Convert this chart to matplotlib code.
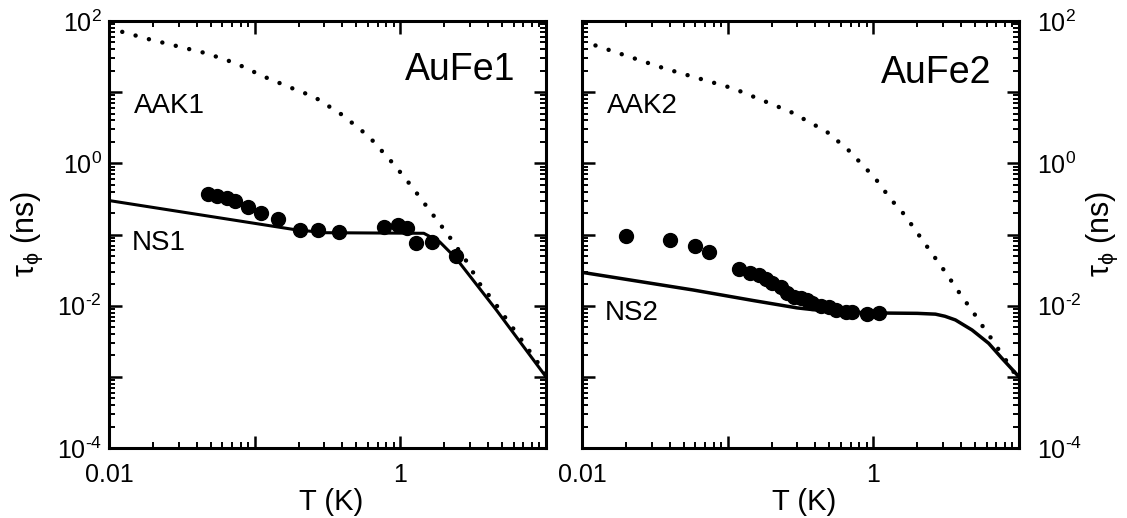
import numpy as np
import matplotlib.pyplot as plt
from matplotlib.ticker import LogLocator, NullFormatter

plt.rcParams['font.family'] = ['Liberation Sans', 'DejaVu Sans']
plt.rcParams['mathtext.fontset'] = 'custom'
plt.rcParams['mathtext.rm'] = 'Liberation Sans'
plt.rcParams['mathtext.it'] = 'Liberation Sans:italic'
plt.rcParams['mathtext.default'] = 'regular'

# ---- AuFe1 (left panel) ----
T_dat1 = [0.048, 0.0553, 0.0641, 0.0731, 0.0901, 0.111, 0.145, 0.204, 0.273,
          0.380, 0.769, 0.964, 1.11, 1.29, 1.66, 2.40]
tau_dat1 = [0.367, 0.348, 0.329, 0.298, 0.241, 0.199, 0.165, 0.116, 0.116,
            0.109, 0.129, 0.136, 0.122, 0.0752, 0.0793, 0.0499]

T_ns1 = [0.01, 0.184, 0.3, 1.45, 1.86, 2.41, 4.56, 10]
tau_ns1 = [0.30, 0.118, 0.106, 0.104, 0.079, 0.0465, 0.0087, 1.0e-3]

T_aak1 = [0.01, 0.0122, 0.0189, 0.047, 0.074, 0.116, 0.182, 0.256, 0.40, 0.61,
          0.91, 1.21, 1.60, 2.12, 2.81, 3.61, 4.22, 10]
tau_aak1 = [80, 70.8, 55.3, 35, 25.5, 16.5, 11.3, 8.6, 4.78, 2.37,
            0.95, 0.46, 0.214, 0.100, 0.0438, 0.0185, 0.0127, 1.1e-3]

# ---- AuFe2 (right panel) ----
T_dat2 = [0.0201, 0.0403, 0.060, 0.0748, 0.120, 0.142, 0.163, 0.183, 0.203,
          0.232, 0.257, 0.286, 0.318, 0.352, 0.382, 0.436, 0.497, 0.552,
          0.645, 0.716, 0.908, 1.10]
tau_dat2 = [0.0962, 0.0837, 0.0697, 0.0562, 0.0328, 0.0290, 0.0270, 0.0237,
            0.0210, 0.0181, 0.0152, 0.0134, 0.0127, 0.0120, 0.0108, 0.00989,
            0.00948, 0.00869, 0.00822, 0.00822, 0.00764, 0.00782]

T_ns2 = [0.01, 0.058, 0.15, 0.3, 0.5, 1.0, 2.0, 2.67, 3.1, 3.66, 4.76, 6.19,
         7.64, 10]
tau_ns2 = [0.0294, 0.0166, 0.0118, 0.0093, 0.0083, 0.0079, 0.0078, 0.0076,
           0.0071, 0.0063, 0.00455, 0.00296, 0.00182, 1.0e-3]

T_aak2 = [0.01, 0.0121, 0.0367, 0.109, 0.27, 0.478, 0.673, 1.03, 1.33, 1.56,
          1.77, 2.37, 3.13, 4.11, 4.76, 5.43, 6.26, 7.18, 8.27, 10]
tau_aak2 = [50, 46, 21.6, 11.3, 5.3, 2.79, 1.54, 0.616, 0.305, 0.214,
            0.151, 0.065, 0.0294, 0.0129, 0.0086, 0.00571, 0.00379, 0.00249,
            0.00163, 9e-4]

xticks = [0.01, 0.1, 1, 10]
xticklabels = ['0.01', '', '1', '']
yticks = [1e-4, 1e-3, 1e-2, 1e-1, 1e0, 1e1, 1e2]
yticklabels = [r'$10^{\text{-}4}$', '', r'$10^{\text{-}2}$', '', r'$10^{0}$', '', r'$10^{2}$']

W, H = 1127, 518
fig = plt.figure(figsize=(W / 100, H / 100), dpi=100)
ax1 = fig.add_axes([109 / W, 70 / H, 437 / W, 427 / H])
ax2 = fig.add_axes([582 / W, 70 / H, 437 / W, 427 / H])


def style(ax, right=False):
    ax.set_xscale('log')
    ax.set_yscale('log')
    ax.set_xlim(0.01, 10)
    ax.set_ylim(1e-4, 1e2)
    ax.set_xticks(xticks, xticklabels)
    ax.set_yticks(yticks, yticklabels)
    ax.xaxis.set_minor_locator(LogLocator(base=10, subs=np.arange(2, 10)))
    ax.yaxis.set_minor_locator(LogLocator(base=10, subs=np.arange(2, 10)))
    ax.xaxis.set_minor_formatter(NullFormatter())
    ax.yaxis.set_minor_formatter(NullFormatter())
    ax.tick_params(which='both', direction='in', top=True, right=True, labelsize=18)
    ax.tick_params(which='major', length=9, width=1.8)
    ax.tick_params(which='minor', length=4.5, width=1.4)
    ax.tick_params(axis='x', pad=11)
    if right:
        ax.tick_params(axis='y', labelleft=False, labelright=True, pad=13)
    else:
        ax.tick_params(axis='y', pad=5)
    for s in ax.spines.values():
        s.set_linewidth(2.2)


for ax, Td, td, Tn, tn, Ta, ta, lw in [
        (ax1, T_dat1, tau_dat1, T_ns1, tau_ns1, T_aak1, tau_aak1, 2.2),
        (ax2, T_dat2, tau_dat2, T_ns2, tau_ns2, T_aak2, tau_aak2, 2.5)]:
    ax.plot(Ta, ta, color='black', lw=3.2, linestyle=(0, (0.01, 3.1)),
            dash_capstyle='round')
    ax.plot(Tn, tn, color='black', lw=lw, solid_capstyle='butt',
            solid_joinstyle='round')
    ax.plot(Td, td, 'o', color='black', markersize=10, linestyle='none')

style(ax1)
style(ax2, right=True)

ax1.text(0.929, 0.862, 'AuFe1', transform=ax1.transAxes, fontsize=27,
         ha='right', va='baseline')
ax1.text(0.056, 0.784, 'AAK1', transform=ax1.transAxes, fontsize=20, va='baseline')
ax1.text(0.052, 0.464, 'NS1', transform=ax1.transAxes, fontsize=20, va='baseline')

ax2.text(0.937, 0.855, 'AuFe2', transform=ax2.transAxes, fontsize=27,
         ha='right', va='baseline')
ax2.text(0.056, 0.784, 'AAK2', transform=ax2.transAxes, fontsize=20, va='baseline')
ax2.text(0.052, 0.300, 'NS2', transform=ax2.transAxes, fontsize=20, va='baseline')

ylab = r'$\tau_{\phi}$ (ns)'
fig.text(27 / W, 1 - 234 / H, ylab, rotation=90, ha='center', va='center', fontsize=22)
fig.text(1102 / W, 1 - 234 / H, ylab, rotation=90, ha='center', va='center', fontsize=22)
fig.text(331 / W, 1 - 510 / H, 'T (K)', ha='center', va='baseline', fontsize=21)
fig.text(804 / W, 1 - 510 / H, 'T (K)', ha='center', va='baseline', fontsize=21)

fig.savefig('out.png', dpi=100)
